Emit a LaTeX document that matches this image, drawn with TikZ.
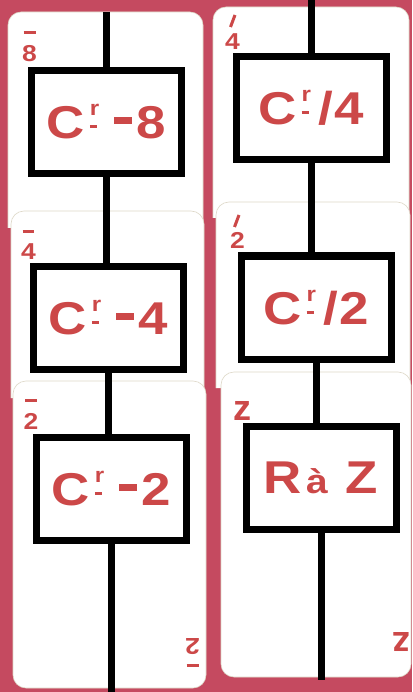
\documentclass[tikz,border=0pt]{standalone}
\usepackage{fontspec}
\setmainfont{Liberation Sans}
\newfontfamily\wideb[FakeStretch=1.15]{Liberation Sans Bold}
\newfontfamily\plainb{Liberation Sans Bold}
\definecolor{bgred}{RGB}{197,74,96}
\definecolor{txtred}{RGB}{204,72,72}
\definecolor{cardedge}{RGB}{222,216,200}
\newcommand\crmk{C\kern5pt\rlap{\raisebox{23pt}{\fontsize{21}{21}\selectfont r}}\rule[10.5pt]{7pt}{3pt}}
\newcommand\bigdash{\rule[14.5pt]{18pt}{7.5pt}}
\tikzset{
  card/.style={fill=white, draw=cardedge, line width=0.6pt, rounded corners=13pt},
  stepbox/.style={draw=black, line width=7pt, fill=white, minimum width=150pt,
    minimum height=103pt, inner sep=0pt, text=txtred,
    font=\wideb\fontsize{46}{46}\selectfont},
  wire/.style={line width=7pt, black},
  cornerlab/.style={text=txtred, font=\wideb\fontsize{23}{23}\selectfont, inner sep=0pt, anchor=base},
  zlab/.style={text=txtred, font=\plainb\fontsize{36}{36}\selectfont, inner sep=0pt, anchor=base},
  markline/.style={txtred, line width=3pt}
}
\begin{document}
\begin{tikzpicture}[x=1pt,y=-1pt]
\useasboundingbox (0,0) rectangle (412,692);
\fill[bgred] (0,0) rectangle (412,692);
% cards (the upper ones are partly hidden by the next card)
\path[card] (8,228) |- (203,12) -- (203,228);
\path[card] (11,398) |- (204,211) -- (204,398);
\draw[card] (13,381) rectangle (206,688);
\path[card] (213,218) |- (409,7) -- (409,218);
\path[card] (216,388) |- (410,202) -- (410,388);
\draw[card] (221,372) rectangle (411,677);
% boxes
\node[stepbox] (b1) at (106.5,122) {\crmk\kern17pt\bigdash\kern5pt 8};
\node[stepbox] (b2) at (108.5,318) {\crmk\kern17pt\bigdash\kern5pt 4};
\node[stepbox] (b3) at (111.5,489) {\crmk\kern17pt\bigdash\kern5pt 2};
\node[stepbox] (r1) at (311,108) {\crmk\kern10pt/\kern1pt 4};
\node[stepbox] (r2) at (316,307.5) {\crmk\kern10pt/\kern1pt 2};
\node[stepbox] (r3) at (321,477.5) {R\kern4pt{\fontsize{34}{34}\selectfont à}\kern18pt Z};
% wires
\coordinate (lt) at (106.5,12);
\coordinate (lb) at (111.5,692);
\coordinate (rt) at (311,0);
\coordinate (rb) at (321,680);
\draw[wire] (lt) -- (b1.north);
\draw[wire] (b1.south) -- (b1.south |- b2.north);
\draw[wire] (b2.south) -- (b2.south |- b3.north);
\draw[wire] (b3.south) -- (lb);
\draw[wire] (rt) -- (r1.north);
\draw[wire] (r1.south) -- (r1.south |- r2.north);
\draw[wire] (r2.south) -- (r2.south |- r3.north);
\draw[wire] (r3.south) -- (rb);
% corner labels
\node[cornerlab] (n8) at (29.5,62) {8};
\draw[markline] (23.5,33) -- (35.5,33);
\node[cornerlab] (n4) at (28.5,259) {4};
\draw[markline] (22.5,231.5) -- (33.5,231.5);
\node[cornerlab] (n2) at (31,429) {2};
\draw[markline] (25,400.5) -- (37,400.5);
\node[cornerlab, rotate=180] (n2b) at (192.5,638) {2};
\draw[markline] (186.5,665) -- (198.5,665);
\node[cornerlab] (m4) at (232.5,50) {4};
\draw[markline] (235,15) -- (230.5,27);
\node[cornerlab] (m2) at (237.5,249) {2};
\draw[markline] (239,215) -- (234.5,227);
\node[zlab] (zt) at (242.5,420) {z};
\node[zlab, rotate=180] (zb) at (401.5,632) {z};
\end{tikzpicture}
\end{document}
